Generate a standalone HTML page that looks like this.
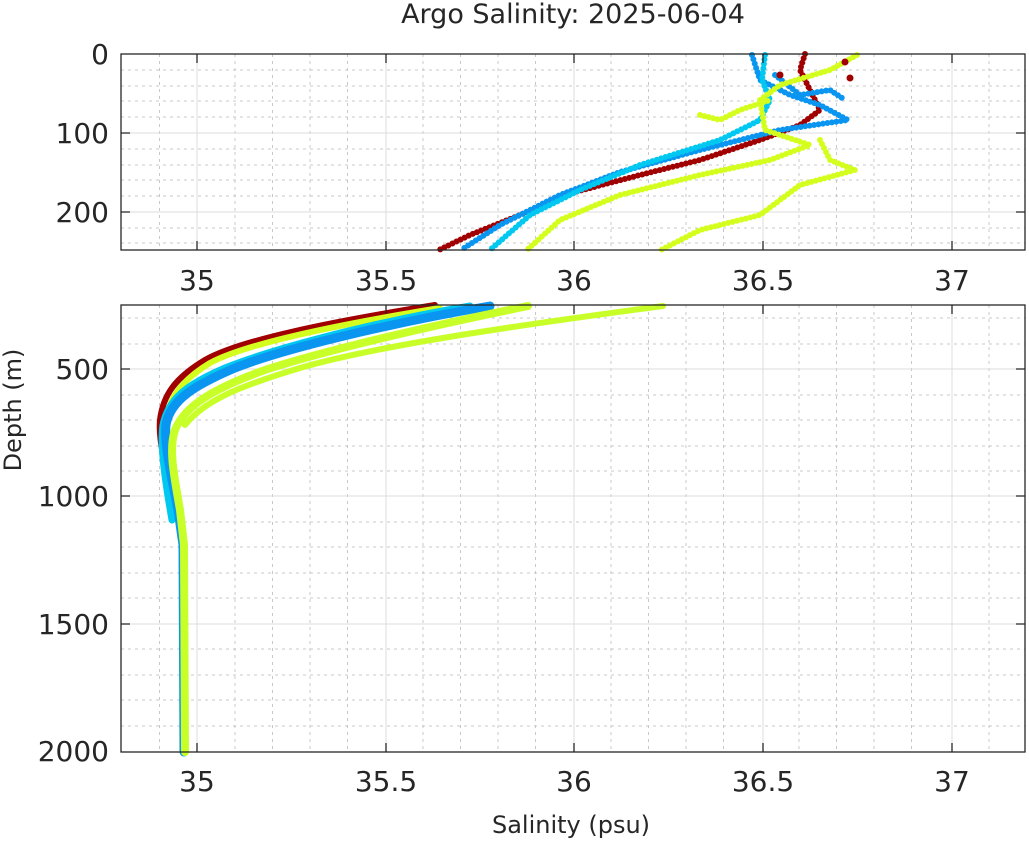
<!DOCTYPE html>
<html><head><meta charset="utf-8"><style>
html,body{margin:0;padding:0;background:#fff;}
svg{display:block;font-family:"DejaVu Sans","Liberation Sans",sans-serif;}
</style></head><body>
<svg width="1029" height="841" viewBox="0 0 1029 841">
<text x="573" y="23" font-size="27" text-anchor="middle" fill="#262626">Argo Salinity: 2025-06-04</text>

<!-- TOP AXES -->
<g stroke="#c8c8c8" stroke-width="1" stroke-dasharray="3,4">
<path d="M159.5 54V250M235 54V250M272.5 54V250M310 54V250M347.5 54V250M423 54V250M460.5 54V250M498 54V250M535.5 54V250M611 54V250M648.5 54V250M686 54V250M723.5 54V250M799 54V250M836.5 54V250M874 54V250M911.5 54V250M989 54V250"/>
<path d="M121 70H1025M121 86H1025M121 101H1025M121 117H1025M121 149H1025M121 165H1025M121 180H1025M121 196H1025M121 228H1025M121 243H1025"/>
</g>
<g stroke="#dcdcdc" stroke-width="1">
<path d="M197 54V250M386 54V250M574 54V250M763 54V250M952 54V250M121 133H1025M121 212H1025"/>
</g>
<g fill="none" stroke-linecap="round" stroke-linejoin="round" stroke-width="6" stroke-dasharray="0 4.5">
<polyline stroke="#a00000" points="805,54 800,70 810,90 820,110 800,125 760,140 700,160 640,175 575,192 520,215 470,235 439,250"/>
<polyline stroke="#0a96f0" points="752,55 760,80 790,95 820,105 848,120 780,130 700,150 620,172 560,195 500,225 461,250"/>
<polyline stroke="#0a96f0" points="775,75 800,95 830,90 845,100"/>
<polyline stroke="#00c8f0" points="765,55 762,80 770,100 760,120 720,140 640,165 580,190 530,215 490,250"/>
<polyline stroke="#d4ff1e" points="857,55 830,70 780,85 760,100 765,130 810,145 770,160 700,175 620,195 560,220 527,250"/>
<polyline stroke="#d4ff1e" points="820,140 830,160 855,170 800,185 780,200 760,215 700,230 661,250"/>
<polyline stroke="#d4ff1e" points="700,115 720,120 740,110 770,100"/>
</g>
<g fill="#a00000"><circle cx="850" cy="78" r="3.5"/><circle cx="845" cy="62" r="3.5"/><circle cx="780" cy="75" r="3.5"/></g>
<rect x="121" y="54" width="904" height="196" fill="none" stroke="#262626" stroke-width="1.3"/>
<g stroke="#262626" stroke-width="1.3"><path d="M197 250v-9M386 250v-9M574 250v-9M763 250v-9M952 250v-9M197 54v9M386 54v9M574 54v9M763 54v9M952 54v9M121 133h9M121 212h9M1025 133h-9M1025 212h-9"/></g>
<g font-size="28" fill="#262626" text-anchor="middle">
<text x="197" y="290">35</text><text x="386" y="290">35.5</text><text x="574" y="290">36</text><text x="763" y="290">36.5</text><text x="952" y="290">37</text>
</g>
<g font-size="28" fill="#262626" text-anchor="end">
<text x="109" y="64">0</text><text x="109" y="143">100</text><text x="109" y="222">200</text>
</g>

<!-- BOTTOM AXES -->
<g stroke="#c8c8c8" stroke-width="1" stroke-dasharray="3,4">
<path d="M159.5 305V752M235 305V752M272.5 305V752M310 305V752M347.5 305V752M423 305V752M460.5 305V752M498 305V752M535.5 305V752M611 305V752M648.5 305V752M686 305V752M723.5 305V752M799 305V752M836.5 305V752M874 305V752M911.5 305V752M989 305V752"/>
<path d="M121 318H1025M121 344H1025M121 395H1025M121 420H1025M121 446H1025M121 471H1025M121 522H1025M121 547H1025M121 573H1025M121 598H1025M121 649H1025M121 675H1025M121 700H1025M121 726H1025"/>
</g>
<g stroke="#dcdcdc" stroke-width="1">
<path d="M197 305V752M386 305V752M574 305V752M763 305V752M952 305V752M121 369H1025M121 496H1025M121 624H1025"/>
</g>
<g fill="none" stroke-linecap="round" stroke-linejoin="round">
<path stroke="#a00000" stroke-width="6" d="M435 305 C330 322 240 340 205 360 C175 378 163 395 160 420 C158 440 166 470 175 500 L182 540 L183 752"/>
<path stroke="#d4ff1e" stroke-width="6" d="M440 308 C335 325 245 344 210 363 C182 380 168 398 165 425"/>
<path stroke="#00c8f0" stroke-width="7" d="M470 306 C360 325 270 350 225 368 C185 385 168 400 163 425 C160 445 165 480 172 520"/>
<path stroke="#0a96f0" stroke-width="9" d="M490 306 C380 325 280 350 235 368 C195 385 170 400 166 425 C164 445 172 480 178 510 L183 545 L184 752"/>
<path stroke="#c8ff28" stroke-width="8" d="M528 306 C420 328 320 352 265 370 C215 388 185 405 175 430 C168 450 175 480 180 510 L184 545 L185 752"/>
<path stroke="#c8ff28" stroke-width="6" d="M663 306 C520 325 380 345 300 368 C240 386 205 400 185 425"/>
</g>
<rect x="121" y="305" width="904" height="447" fill="none" stroke="#262626" stroke-width="1.3"/>
<g stroke="#262626" stroke-width="1.3"><path d="M197 752v-9M386 752v-9M574 752v-9M763 752v-9M952 752v-9M197 305v9M386 305v9M574 305v9M763 305v9M952 305v9M121 369h9M121 496h9M121 624h9M1025 369h-9M1025 496h-9M1025 624h-9"/></g>
<g font-size="28" fill="#262626" text-anchor="middle">
<text x="197" y="791">35</text><text x="386" y="791">35.5</text><text x="574" y="791">36</text><text x="763" y="791">36.5</text><text x="952" y="791">37</text>
</g>
<g font-size="28" fill="#262626" text-anchor="end">
<text x="109" y="379">500</text><text x="109" y="506">1000</text><text x="109" y="634">1500</text><text x="109" y="761">2000</text>
</g>
<text x="571" y="833" font-size="24" text-anchor="middle" fill="#262626">Salinity (psu)</text>
<text transform="translate(21,410) rotate(-90)" font-size="24" text-anchor="middle" fill="#262626">Depth (m)</text>
</svg>
</body></html>
